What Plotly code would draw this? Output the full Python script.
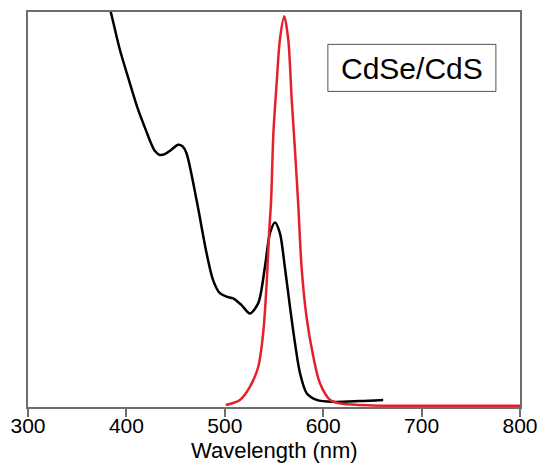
import plotly.graph_objects as go

# Absorbance (black)
abs_wl = [380, 384.1, 393.3, 403.5, 412, 420.7, 425, 429, 434, 439, 445, 452.6, 457, 461, 471.3, 481.5, 488, 495, 502, 508.5, 517, 525.5, 534, 540.8, 545.9, 551, 556, 561, 566.2, 571.3, 576.4, 583.2, 593.4, 610, 637, 661]
abs_val = [1.035, 1.0, 0.905, 0.82, 0.752, 0.695, 0.668, 0.648, 0.638, 0.640, 0.650, 0.664, 0.660, 0.643, 0.524, 0.389, 0.322, 0.288, 0.279, 0.275, 0.258, 0.237, 0.263, 0.355, 0.44, 0.467, 0.44, 0.355, 0.254, 0.162, 0.086, 0.035, 0.018, 0.013, 0.015, 0.018]

# Photoluminescence (red)
pl_wl = [501, 515.4, 525.5, 534, 539, 542.5, 545, 547, 549.4, 552.7, 556, 560.4, 564.5, 568, 571.3, 574.7, 578, 583, 590, 596.7, 607, 620, 650, 700, 800]
pl_val = [0.005, 0.018, 0.051, 0.102, 0.187, 0.31, 0.44, 0.52, 0.694, 0.82, 0.93, 0.989, 0.93, 0.778, 0.651, 0.51, 0.355, 0.229, 0.127, 0.06, 0.018, 0.008, 0.004, 0.003, 0.003]

x_ticks = [300, 400, 500, 600, 700, 800]
label = "CdSe/CdS"
x_title = "Wavelength (nm)"

fig = go.Figure()
fig.add_trace(go.Scatter(x=abs_wl, y=abs_val, mode="lines",
                         line=dict(color="#000000", width=2.5, shape="spline", smoothing=0.8),
                         showlegend=False, hoverinfo="skip"))
fig.add_trace(go.Scatter(x=pl_wl, y=pl_val, mode="lines",
                         line=dict(color="#e5202a", width=2.5, shape="spline", smoothing=0.8),
                         showlegend=False, hoverinfo="skip"))

fig.update_layout(
    width=538, height=463,
    margin=dict(l=28, r=18, t=12, b=56, autoexpand=False),
    paper_bgcolor="white", plot_bgcolor="white",
    font=dict(family="Liberation Sans, Arial, sans-serif", color="#000000"),
    xaxis=dict(range=[300, 800], tickvals=x_ticks, ticktext=[str(v) for v in x_ticks],
               automargin=False, ticklabeloverflow="allow", ticklabelstandoff=-9,
               showgrid=False, zeroline=False, showline=True, mirror=True,
               linecolor="#6e6e6e", linewidth=1.5, ticks="outside", ticklen=8,
               tickcolor="#6e6e6e", tickwidth=1.5, tickfont=dict(size=21)),
    yaxis=dict(range=[0, 1], automargin=False, showgrid=False, zeroline=False, showline=True, mirror=True,
               linecolor="#6e6e6e", linewidth=1.5, showticklabels=False, ticks=""),
    shapes=[dict(type="rect", xref="paper", yref="paper", x0=0.6095, x1=0.951, y0=0.799, y1=0.918,
                 line=dict(color="#555555", width=1), fillcolor="white", layer="above")],
    annotations=[
        dict(text=label, xref="paper", yref="paper", x=0.780, y=0.858,
             xanchor="center", yanchor="middle", showarrow=False,
             font=dict(size=30, color="#000000")),
        dict(text=x_title, xref="paper", yref="paper", x=0.5, y=-0.109,
             xanchor="center", yanchor="middle", showarrow=False,
             font=dict(size=22, color="#000000")),
    ],
)

fig.write_html("out.html")
